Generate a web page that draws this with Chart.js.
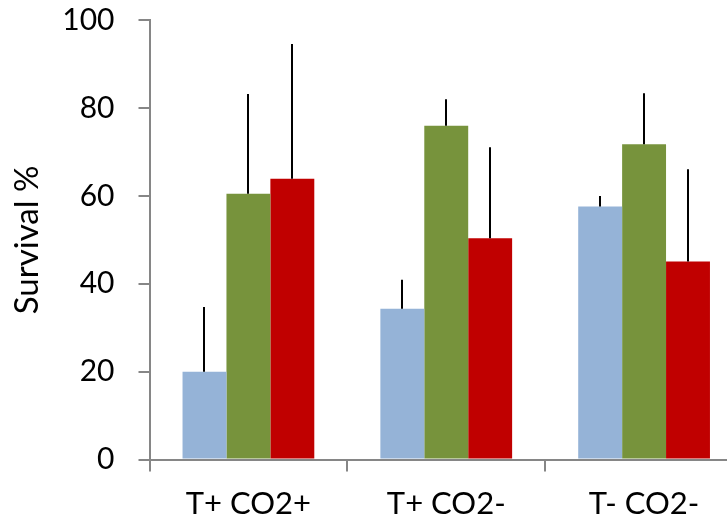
<!DOCTYPE html>
<html>
<head>
<meta charset="utf-8">
<script src="https://cdn.jsdelivr.net/npm/chart.js@4"></script>
<style>
html,body{margin:0;padding:0;background:#fff;overflow:hidden;}
#wrap{width:745px;height:524px;}
</style>
</head>
<body>
<div id="wrap"><canvas id="c" width="745" height="524"></canvas></div>
<script>
const categories = ["T+ CO2+", "T+ CO2-", "T- CO2-"];
const seriesNames = ["A", "B", "C"];
const blueValues = [20.0, 34.3, 57.6];
const greenValues = [60.5, 76.0, 71.8];
const redValues = [63.9, 50.4, 45.1];
const blueErr = [14.7, 6.6, 2.4];
const greenErr = [22.7, 6.0, 11.6];
const redErr = [30.7, 20.7, 21.0];
const yTicks = [0, 20, 40, 60, 80, 100];
const yTitle = "Survival %";

const FONT = "Lato, 'Open Sans', sans-serif";

const errorBars = {
  id: 'errorBars',
  afterDatasetsDraw(chart) {
    const ctx = chart.ctx;
    const y = chart.scales.y;
    ctx.save();
    ctx.strokeStyle = '#000';
    ctx.lineWidth = 2;
    chart.data.datasets.forEach((ds, i) => {
      const meta = chart.getDatasetMeta(i);
      meta.data.forEach((bar, j) => {
        const top = y.getPixelForValue(ds.data[j] + ds.err[j]);
        ctx.beginPath();
        ctx.moveTo(Math.round(bar.x), bar.y);
        ctx.lineTo(Math.round(bar.x), top);
        ctx.stroke();
      });
    });
    ctx.restore();
  }
};

new Chart(document.getElementById('c'), {
  type: 'bar',
  data: {
    labels: categories,
    datasets: [
      {label: seriesNames[0], data: blueValues, err: blueErr, backgroundColor: '#95B3D7'},
      {label: seriesNames[1], data: greenValues, err: greenErr, backgroundColor: '#77933C'},
      {label: seriesNames[2], data: redValues, err: redErr, backgroundColor: '#C00000'}
    ]
  },
  options: {
    responsive: false,
    animation: false,
    events: [],
    layout: {padding: {top: 20.3, right: 2, left: 0, bottom: 0}},
    datasets: {bar: {categoryPercentage: 0.666, barPercentage: 1.0}},
    plugins: {legend: {display: false}, tooltip: {enabled: false}},
    scales: {
      x: {
        grid: {drawOnChartArea: false, color: '#868686', lineWidth: 2, tickLength: 12, offset: true},
        border: {color: '#868686', width: 2},
        ticks: {color: '#000', font: {family: FONT, size: 31}, padding: 14, maxRotation: 0},
        afterFit(s) { s.height = 64.5; s.paddingLeft = 0; s.paddingRight = 0; }
      },
      y: {
        min: 0, max: 100,
        afterBuildTicks(s) { s.ticks = yTicks.map(v => ({value: v})); },
        grid: {drawOnChartArea: false, color: '#868686', lineWidth: 2, tickLength: 11},
        border: {color: '#868686', width: 2},
        ticks: {color: '#000', font: {family: FONT, size: 30}, padding: 24},
        title: {display: true, text: yTitle, color: '#000', font: {family: FONT, size: 33}, padding: {top: 8, bottom: 0}},
        afterFit(s) { s.width = 149.5; s.paddingTop = 0; s.paddingBottom = 0; }
      }
    }
  },
  plugins: [errorBars]
});
</script>
</body>
</html>
